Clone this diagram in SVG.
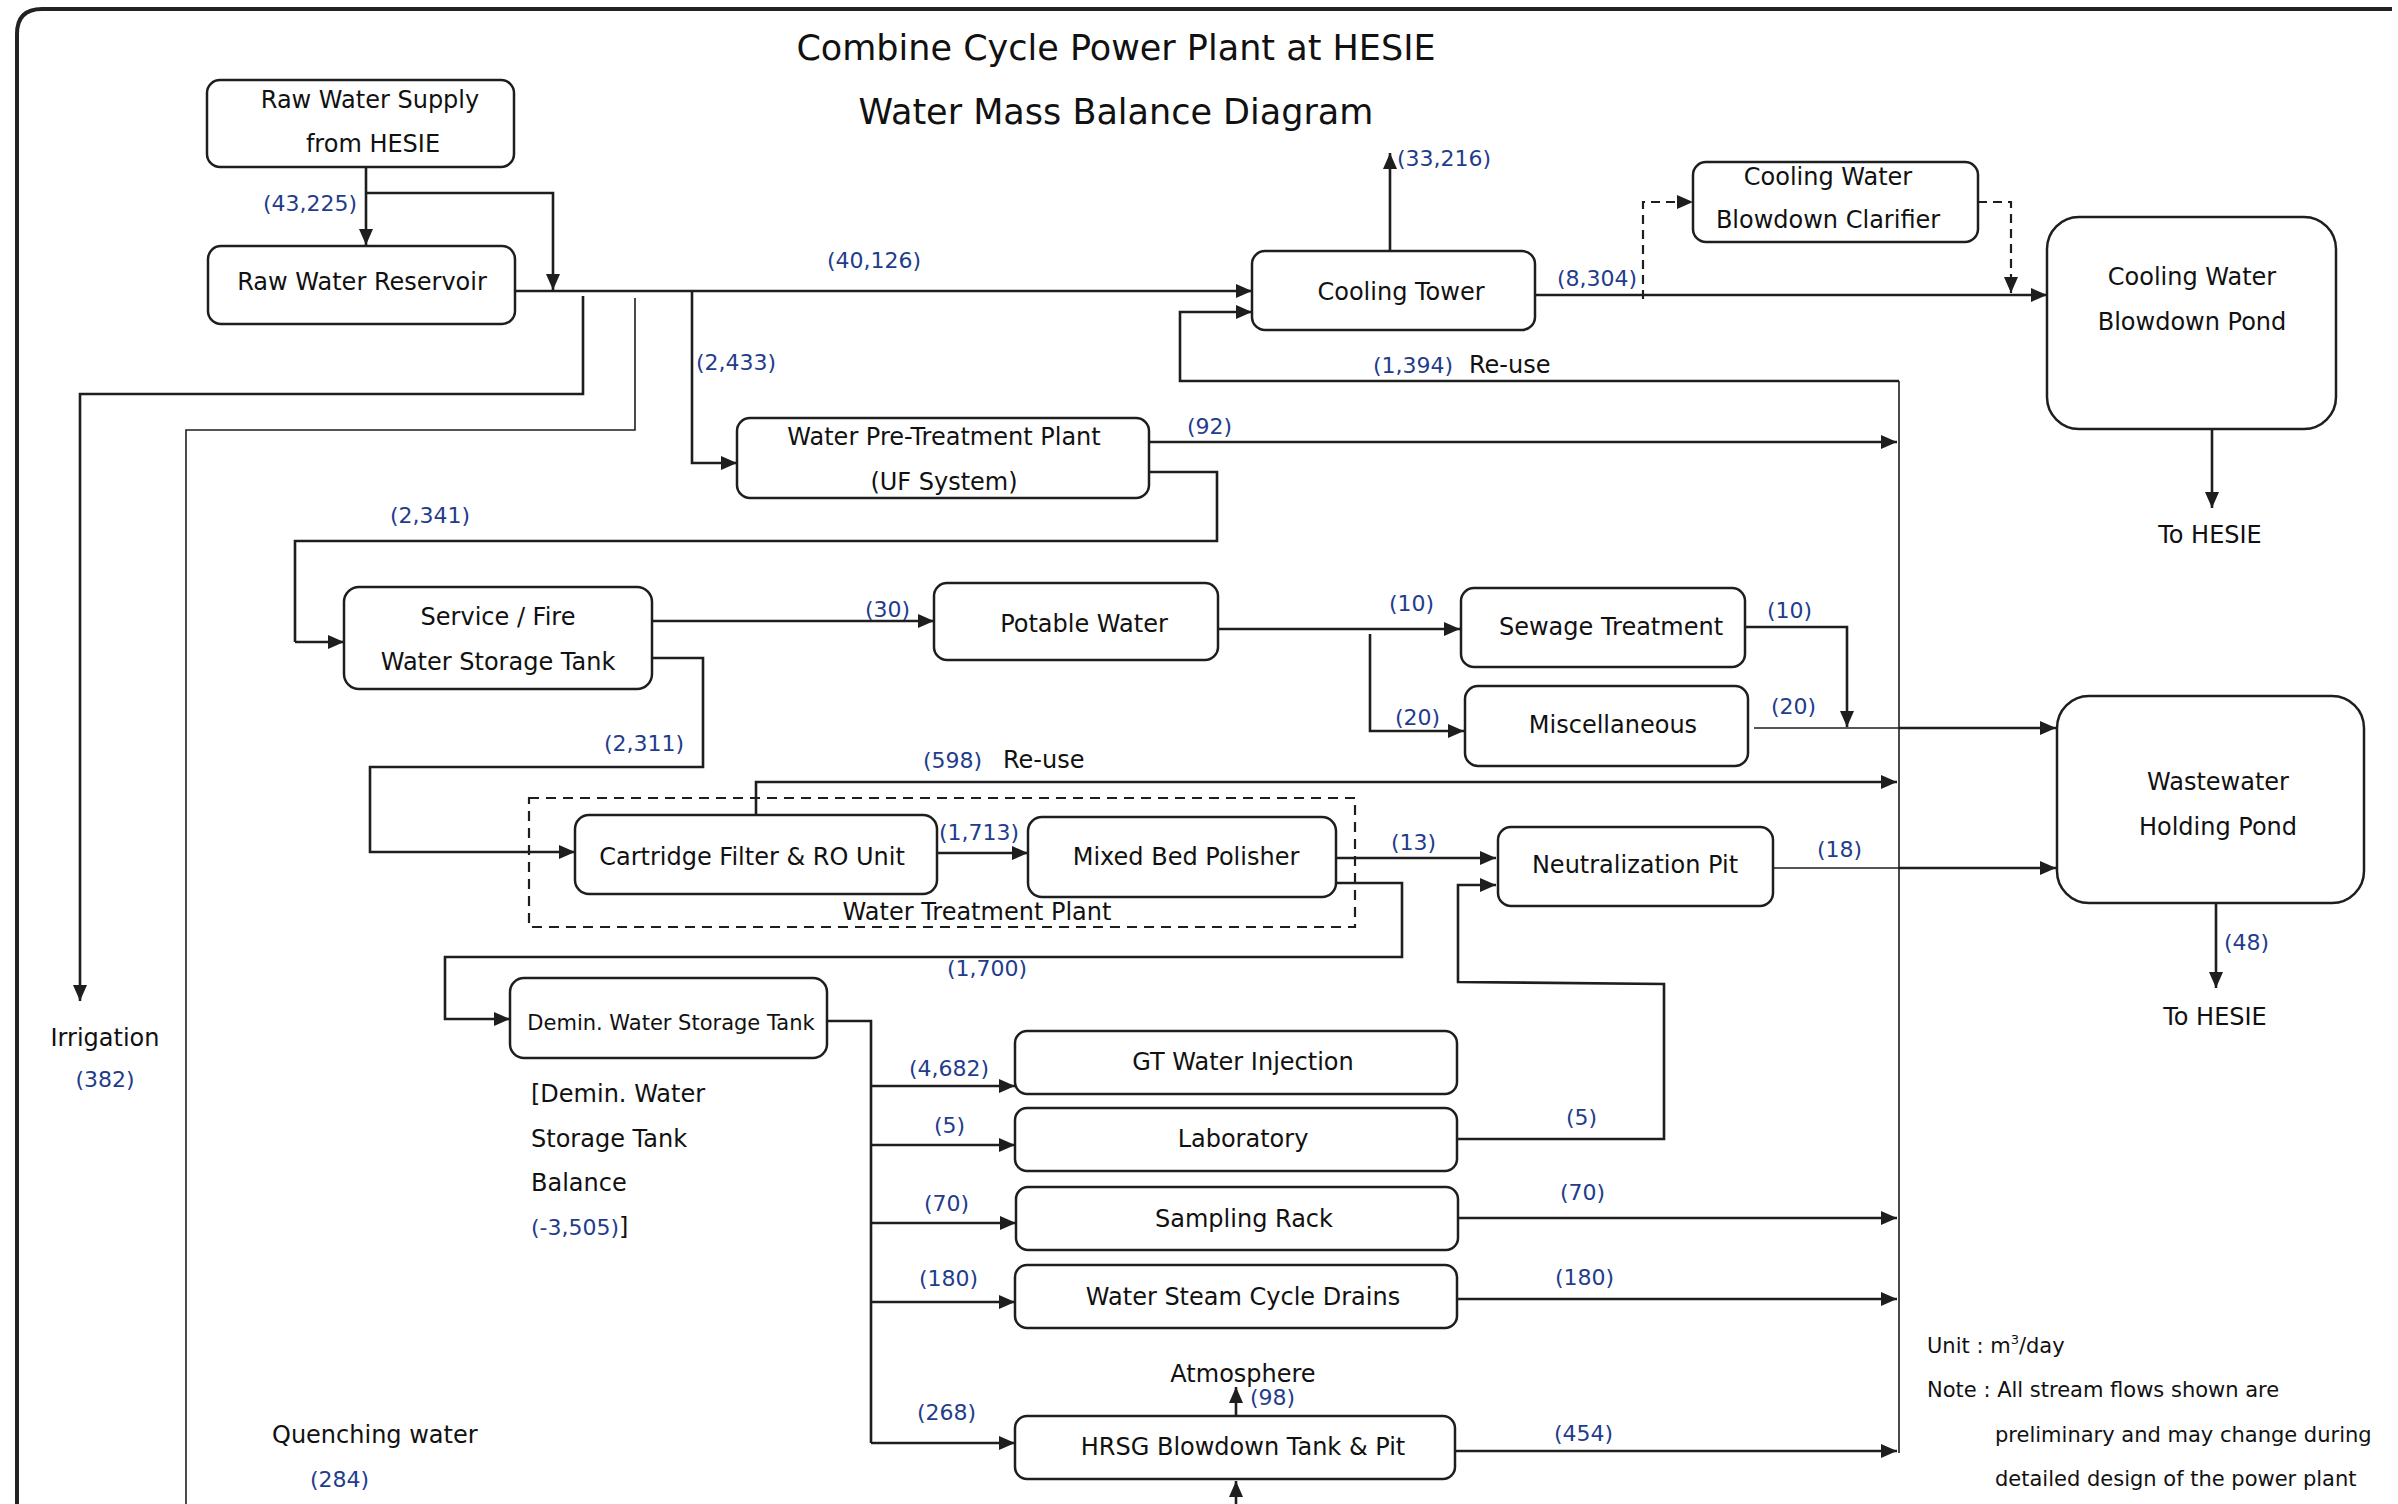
<svg xmlns="http://www.w3.org/2000/svg" width="2398" height="1504" viewBox="0 0 2398 1504">
<defs>
<marker id="ah" markerUnits="userSpaceOnUse" markerWidth="17" markerHeight="14" refX="16" refY="7" orient="auto"><path d="M0,0 L16,7 L0,14 z" fill="#1e1e1e"/></marker>
<style>
.n rect{fill:#fff;stroke:#1e1e1e;stroke-width:2.5}
.n text,.t{font-family:'DejaVu Sans',sans-serif;font-size:24px;fill:#111;text-anchor:middle}
.c path{fill:none;stroke:#1e1e1e;stroke-width:2.6}
.c path.th{stroke-width:1.6}
.c path.a{marker-end:url(#ah)}
.c path.d{stroke-dasharray:9,6;stroke-width:2.2}
.lb{font-family:'DejaVu Sans',sans-serif;font-size:22px;fill:#1f3d8c}
.bk{font-family:'DejaVu Sans',sans-serif;font-size:24px;fill:#111}
.ttl{font-family:'DejaVu Sans',sans-serif;font-size:35px;fill:#111;text-anchor:middle}
.nt{font-family:'DejaVu Sans',sans-serif;font-size:21px;fill:#111}
</style>
</defs>
<rect width="2398" height="1504" fill="#fff"/>
<path d="M17,1504 V34 Q17,9 42,9 H2392" fill="none" stroke="#222" stroke-width="4"/>
<g id="title">
<text class="ttl" x="1116" y="60">Combine Cycle Power Plant at HESIE</text>
<text class="ttl" x="1116" y="124">Water Mass Balance Diagram</text>
</g>
<g id="connectors" class="c">
<path class="a" d="M366,167 V245"/>
<path class="a" d="M366,193 H553 V290"/>
<path class="a" d="M514,291 H1252"/>
<path class="a" d="M583,296 V394 H80 V1001"/>
<path class="th" d="M635,298 V430 H186 V1504"/>
<path class="a" d="M692,291 V463 H737"/>
<path class="a" d="M1390,251 V153"/>
<path class="a" d="M1899,381 H1180 V312 H1252"/>
<path class="a" d="M1535,295 H2047"/>
<path class="a d" d="M1643,299 V202 H1693"/>
<path class="a d" d="M1978,202 H2011 V293"/>
<path class="a" d="M2212,429 V508"/>
<path class="th" d="M1899,381 V1453"/>
<path class="a" d="M1149,442 H1897"/>
<path d="M1149,472 H1217 V541 H295 V642"/>
<path class="a" d="M295,642 H344"/>
<path class="a" d="M652,621 H934"/>
<path class="a" d="M652,658 H703 V767 H370 V852 H575"/>
<path class="a" d="M1218,629 H1460"/>
<path class="a" d="M1370,634 V731 H1464"/>
<path class="a" d="M1745,627 H1847 V727"/>
<path class="th" d="M1754,728 H1899"/>
<path class="a" d="M1899,728 H2056"/>
<path class="a" d="M756,815 V782 H1897"/>
<path class="a" d="M937,853 H1028"/>
<path class="a" d="M1336,858 H1496"/>
<path class="a" d="M1331,883 H1402 V957 H445 V1019 H510"/>
<path class="th" d="M1773,868 H1899"/>
<path class="a" d="M1899,868 H2056"/>
<path class="a" d="M2216,903 V988"/>
<path d="M827,1021 H871 V1443"/>
<path class="a" d="M871,1086 H1015"/>
<path class="a" d="M871,1145 H1015"/>
<path class="a" d="M871,1223 H1016"/>
<path class="a" d="M871,1302 H1015"/>
<path class="a" d="M871,1443 H1015"/>
<path class="a" d="M1457,1139 H1664 V984 L1458,982 V885 H1496"/>
<path class="a" d="M1458,1218 H1897"/>
<path class="a" d="M1457,1299 H1897"/>
<path class="a" d="M1455,1451 H1897"/>
<path class="a" d="M1236,1416 V1387"/>
<path class="a" d="M1236,1504 V1481"/>
</g>
<g id="wtp-boundary"><rect x="529" y="798" width="826" height="129" fill="none" stroke="#1e1e1e" stroke-width="2.2" stroke-dasharray="10,7"/><text class="t" x="977" y="920">Water Treatment Plant</text></g>
<g id="raw-water-supply" class="n"><rect x="207" y="80" width="307" height="87" rx="13"/><text x="370" y="108">Raw Water Supply</text><text x="373" y="152">from HESIE</text></g>
<g id="raw-water-reservoir" class="n"><rect x="208" y="246" width="307" height="78" rx="13"/><text x="362" y="290">Raw Water Reservoir</text></g>
<g id="cooling-tower" class="n"><rect x="1252" y="251" width="283" height="79" rx="13"/><text x="1401" y="300">Cooling Tower</text></g>
<g id="cw-blowdown-clarifier" class="n"><rect x="1693" y="162" width="285" height="80" rx="13"/><text x="1828" y="185">Cooling Water</text><text x="1828" y="228">Blowdown Clarifier</text></g>
<g id="cw-blowdown-pond" class="n"><rect x="2047" y="217" width="289" height="212" rx="32"/><text x="2192" y="285">Cooling Water</text><text x="2192" y="330">Blowdown Pond</text></g>
<g id="water-pretreatment" class="n"><rect x="737" y="418" width="412" height="80" rx="13"/><text x="944" y="445">Water Pre-Treatment Plant</text><text x="944" y="490">(UF System)</text></g>
<g id="service-fire-tank" class="n"><rect x="344" y="587" width="308" height="102" rx="15"/><text x="498" y="625">Service / Fire</text><text x="498" y="670">Water Storage Tank</text></g>
<g id="potable-water" class="n"><rect x="934" y="583" width="284" height="77" rx="13"/><text x="1084" y="632">Potable Water</text></g>
<g id="sewage-treatment" class="n"><rect x="1461" y="588" width="284" height="79" rx="13"/><text x="1611" y="635">Sewage Treatment</text></g>
<g id="miscellaneous" class="n"><rect x="1465" y="686" width="283" height="80" rx="13"/><text x="1613" y="733">Miscellaneous</text></g>
<g id="cartridge-ro" class="n"><rect x="575" y="815" width="362" height="79" rx="14"/><text x="752" y="865">Cartridge Filter &amp; RO Unit</text></g>
<g id="mixed-bed" class="n"><rect x="1028" y="817" width="308" height="80" rx="14"/><text x="1186" y="865">Mixed Bed Polisher</text></g>
<g id="neutralization-pit" class="n"><rect x="1498" y="827" width="275" height="79" rx="13"/><text x="1635" y="873">Neutralization Pit</text></g>
<g id="wastewater-pond" class="n"><rect x="2057" y="696" width="307" height="207" rx="32"/><text x="2218" y="790">Wastewater</text><text x="2218" y="835">Holding Pond</text></g>
<g id="demin-tank" class="n"><rect x="510" y="978" width="317" height="80" rx="14"/><text x="671" y="1030" style="font-size:21px">Demin. Water Storage Tank</text></g>
<g id="gt-water-injection" class="n"><rect x="1015" y="1031" width="442" height="63" rx="12"/><text x="1243" y="1070">GT Water Injection</text></g>
<g id="laboratory" class="n"><rect x="1015" y="1108" width="442" height="63" rx="12"/><text x="1243" y="1147">Laboratory</text></g>
<g id="sampling-rack" class="n"><rect x="1016" y="1187" width="442" height="63" rx="12"/><text x="1244" y="1227">Sampling Rack</text></g>
<g id="wsc-drains" class="n"><rect x="1015" y="1265" width="442" height="63" rx="12"/><text x="1243" y="1305">Water Steam Cycle Drains</text></g>
<g id="hrsg-blowdown" class="n"><rect x="1015" y="1416" width="440" height="63" rx="12"/><text x="1243" y="1455">HRSG Blowdown Tank &amp; Pit</text></g>
<g id="labels">
<text class="lb" x="263" y="211">(43,225)</text>
<text class="lb" x="827" y="268">(40,126)</text>
<text class="lb" x="1397" y="166">(33,216)</text>
<text class="lb" x="1557" y="286">(8,304)</text>
<text class="lb" x="1373" y="373">(1,394)</text><text class="bk" x="1469" y="373">Re-use</text>
<text class="lb" x="696" y="370">(2,433)</text>
<text class="lb" x="1187" y="434">(92)</text>
<text class="lb" x="390" y="523">(2,341)</text>
<text class="lb" x="865" y="617">(30)</text>
<text class="lb" x="1389" y="611">(10)</text>
<text class="lb" x="1767" y="618">(10)</text>
<text class="lb" x="1395" y="725">(20)</text>
<text class="lb" x="1771" y="714">(20)</text>
<text class="lb" x="604" y="751">(2,311)</text>
<text class="lb" x="923" y="768">(598)</text><text class="bk" x="1003" y="768">Re-use</text>
<text class="lb" x="939" y="840">(1,713)</text>
<text class="lb" x="1391" y="850">(13)</text>
<text class="lb" x="1817" y="857">(18)</text>
<text class="lb" x="947" y="976">(1,700)</text>
<text class="lb" x="2224" y="950">(48)</text>
<text class="lb" x="909" y="1076">(4,682)</text>
<text class="lb" x="934" y="1133">(5)</text>
<text class="lb" x="1566" y="1125">(5)</text>
<text class="lb" x="924" y="1211">(70)</text>
<text class="lb" x="1560" y="1200">(70)</text>
<text class="lb" x="919" y="1286">(180)</text>
<text class="lb" x="1555" y="1285">(180)</text>
<text class="lb" x="917" y="1420">(268)</text>
<text class="lb" x="1250" y="1405">(98)</text>
<text class="lb" x="1554" y="1441">(454)</text>
<text class="t" x="2210" y="543">To HESIE</text>
<text class="t" x="2215" y="1025">To HESIE</text>
<text class="t" x="105" y="1046">Irrigation</text>
<text class="lb" x="105" y="1087" text-anchor="middle">(382)</text>
<text class="t" x="1243" y="1382">Atmosphere</text>
<text class="bk" x="272" y="1443">Quenching water</text>
<text class="lb" x="310" y="1487">(284)</text>
<text class="bk" x="531" y="1102">[Demin. Water</text>
<text class="bk" x="531" y="1147">Storage Tank</text>
<text class="bk" x="531" y="1191">Balance</text>
<text class="bk" x="531" y="1235"><tspan style="fill:#1f3d8c;font-size:22px">(-3,505)</tspan>]</text>
<text class="nt" x="1927" y="1353">Unit : m<tspan dy="-9" style="font-size:13px">3</tspan><tspan dy="9">/day</tspan></text>
<text class="nt" x="1927" y="1397">Note : All stream flows shown are</text>
<text class="nt" x="1995" y="1442">preliminary and may change during</text>
<text class="nt" x="1995" y="1486">detailed design of the power plant</text>
</g>
</svg>
